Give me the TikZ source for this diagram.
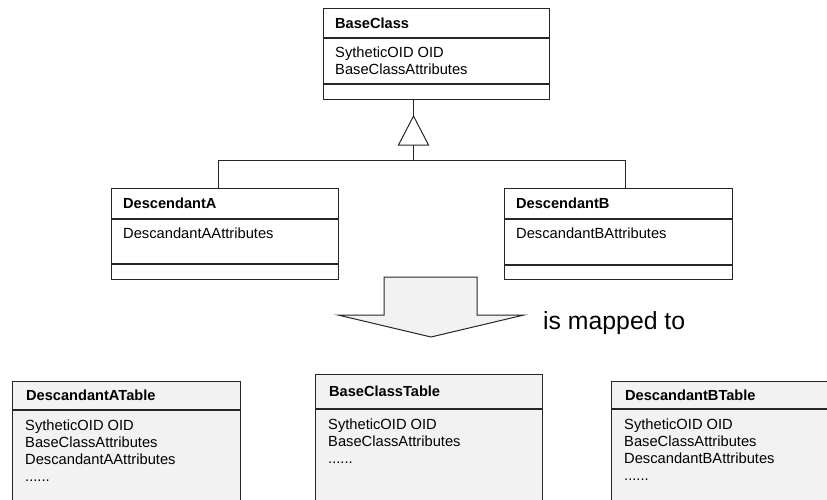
\documentclass[tikz,border=0pt]{standalone}
\usepackage{fontspec}
\setmainfont{Liberation Sans}
\usepackage{tikz}
\begin{document}
\begin{tikzpicture}[x=1pt,y=1pt,
            every node/.style={inner sep=0pt,font=\fontsize{14.7}{17}\selectfont},
            compart/.style={draw=black!85,line width=1pt,anchor=north west},
            tcompart/.style={compart,fill=black!5},
            clsname/.style={anchor=west,font=\fontsize{14.6}{17}\selectfont\bfseries},
            attrs/.style={anchor=north west,align=left},
            conn/.style={draw=black!85,line width=1pt}]
            \useasboundingbox (0,0) rectangle (827,-499);
            \node [compart,minimum width=226,minimum height=29] (base) at (323,-8) {};
            \node [compart,minimum width=226,minimum height=45] (baseattr) at (base.south west) {};
            \node [compart,minimum width=226,minimum height=15] (baseop) at (baseattr.south west) {};
            \node [clsname] (basename) at ([xshift=12]base.west) {BaseClass};
            \node [attrs] (basetext) at ([shift={(12,-9)}]baseattr.north west) {SytheticOID OID\\BaseClassAttributes};
            \node [compart,minimum width=227,minimum height=30] (descA) at (111,-188) {};
            \node [compart,minimum width=227,minimum height=44] (descAattr) at (descA.south west) {};
            \node [compart,minimum width=227,minimum height=15] (descAop) at (descAattr.south west) {};
            \node [clsname] (descAname) at ([xshift=12]descA.west) {DescendantA};
            \node [attrs] (descAtext) at ([shift={(12,-9)}]descAattr.north west) {DescandantAAttributes};
            \node [compart,minimum width=228,minimum height=30] (descB) at (504,-188) {};
            \node [compart,minimum width=228,minimum height=45] (descBattr) at (descB.south west) {};
            \node [compart,minimum width=228,minimum height=14] (descBop) at (descBattr.south west) {};
            \node [clsname] (descBname) at ([xshift=12]descB.west) {DescendantB};
            \node [attrs] (descBtext) at ([shift={(12,-9)}]descBattr.north west) {DescandantBAttributes};
            \coordinate (apex) at ([shift={(-23,-16)}]baseop.south);
            \coordinate (tribase) at ([yshift=-29]apex);
            \draw [conn] (baseop.south -| apex) -- (apex);
            \draw [conn] (apex) -- ++(-15,-29) -- ++(30,0) -- cycle;
            \draw [conn] (tribase) -- ++(0,-15) coordinate (fork);
            \draw [conn] (fork) -| ([xshift=-7]descA.north);
            \draw [conn] (fork) -| ([xshift=7]descB.north);
            \draw [conn,fill=black!5] (384,-277) -- (477,-277) -- (477,-315) -- (524,-315) -- (431,-337) -- (338,-315) -- (384,-315) -- cycle;
            \node [anchor=west,font=\fontsize{24.8}{28}\selectfont] (mapped) at (543,-323) {is mapped to};
            \node [tcompart,minimum width=228,minimum height=28] (tabA) at (12,-381) {};
            \node [tcompart,minimum width=228,minimum height=130] (tabAbody) at (tabA.south west) {};
            \node [clsname] (tabAname) at ([xshift=14]tabA.west) {DescandantATable};
            \node [attrs] (tabAtext) at ([shift={(13,-10)}]tabAbody.north west) {SytheticOID OID\\BaseClassAttributes\\DescandantAAttributes\\......};
            \node [tcompart,minimum width=227,minimum height=34] (tabBase) at (315,-374) {};
            \node [tcompart,minimum width=227,minimum height=130] (tabBasebody) at (tabBase.south west) {};
            \node [clsname] (tabBasename) at ([xshift=14]tabBase.west) {BaseClassTable};
            \node [attrs] (tabBasetext) at ([shift={(13,-10)}]tabBasebody.north west) {SytheticOID OID\\BaseClassAttributes\\......};
            \node [tcompart,minimum width=228,minimum height=27] (tabB) at (611,-381) {};
            \node [tcompart,minimum width=228,minimum height=130] (tabBbody) at (tabB.south west) {};
            \node [clsname] (tabBname) at ([xshift=14]tabB.west) {DescandantBTable};
            \node [attrs] (tabBtext) at ([shift={(13,-10)}]tabBbody.north west) {SytheticOID OID\\BaseClassAttributes\\DescandantBAttributes\\......};
        \end{tikzpicture}
\end{document}
